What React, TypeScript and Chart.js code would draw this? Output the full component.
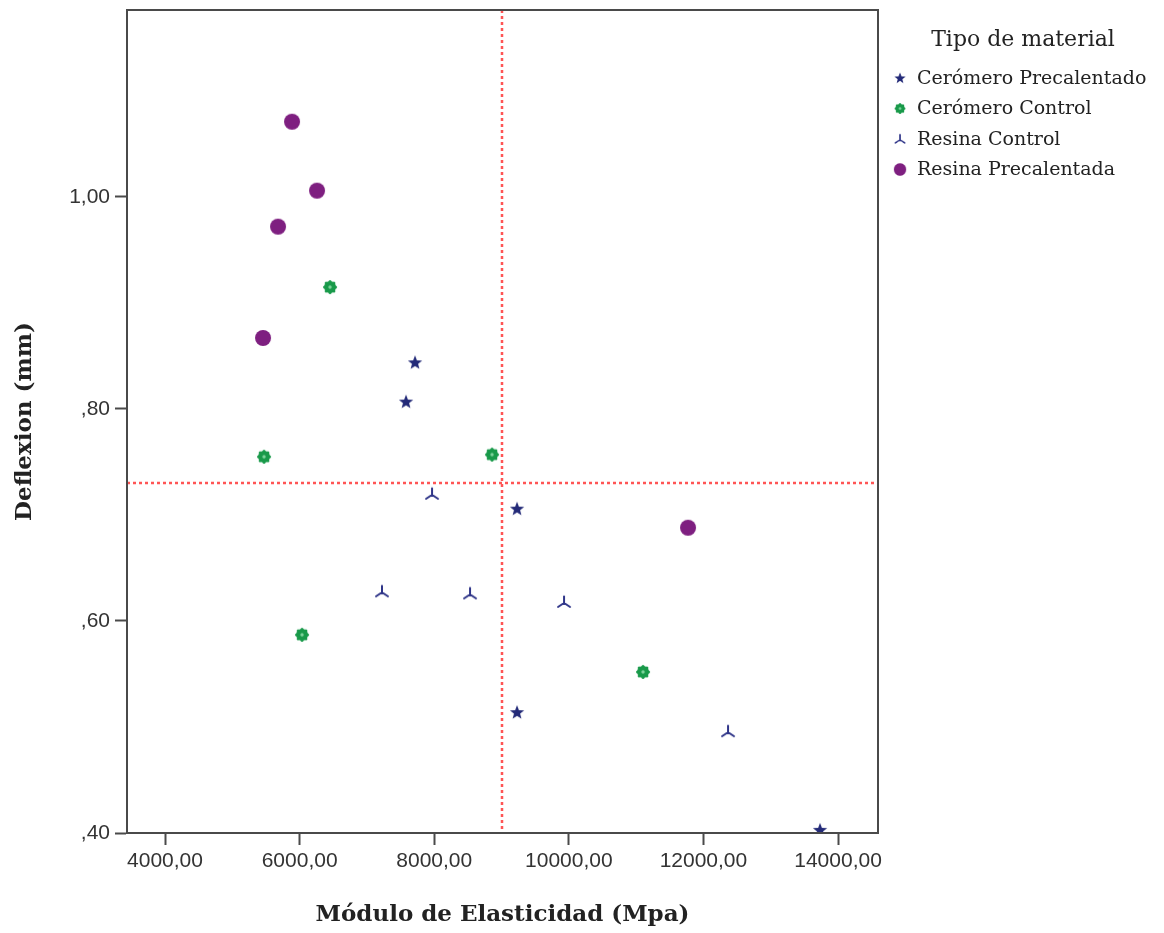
import React, { useEffect, useRef } from "react";
import { Chart, registerables } from "chart.js";

Chart.register(...registerables);

const seriesNames = ["Cerómero Precalentado", "Cerómero Control", "Resina Control", "Resina Precalentada"];
const legendTitle = "Tipo de material";
const xTitle = "Módulo de Elasticidad (Mpa)";
const yTitle = "Deflexion (mm)";

const cpX = [7715, 7581, 9230, 9230, 13733];
const cpY = [0.844, 0.807, 0.706, 0.514, 0.403];
const ccX = [6452, 5471, 8859, 6036, 11103];
const ccY = [0.915, 0.755, 0.757, 0.587, 0.552];
const rcX = [7967, 7224, 8532, 9929, 12366];
const rcY = [0.72, 0.628, 0.626, 0.618, 0.496];
const rpX = [5887, 6259, 5679, 5456, 11771];
const rpY = [1.071, 1.006, 0.972, 0.867, 0.688];

const xTicks = [4000, 6000, 8000, 10000, 12000, 14000];
const yTicks = [0.4, 0.6, 0.8, 1.0];
const refX = 9000;
const refY = 0.73;

const FONT = "'DejaVu Serif', 'Liberation Serif', serif";
const TICKFONT = "'Liberation Sans', Arial, sans-serif";

function makeCanvas(size: number, draw: (ctx: CanvasRenderingContext2D, c: number) => void) {
  const cv = document.createElement("canvas");
  cv.width = size;
  cv.height = size;
  const ctx = cv.getContext("2d")!;
  draw(ctx, size / 2);
  return cv;
}

function starIcon() {
  return makeCanvas(18, (ctx, c) => {
    ctx.fillStyle = "#232a78";
    ctx.beginPath();
    for (let i = 0; i < 10; i++) {
      const r = i % 2 === 0 ? 7.5 : 3.2;
      const a = -Math.PI / 2 + (i * Math.PI) / 5;
      const px = c + r * Math.cos(a);
      const py = c + 0.5 + r * Math.sin(a);
      if (i === 0) ctx.moveTo(px, py);
      else ctx.lineTo(px, py);
    }
    ctx.closePath();
    ctx.fill();
  });
}

function gearIcon() {
  return makeCanvas(18, (ctx, c) => {
    ctx.fillStyle = "#199a4a";
    ctx.beginPath();
    ctx.arc(c, c, 6, 0, Math.PI * 2);
    ctx.fill();
    for (let i = 0; i < 8; i++) {
      const a = (i * Math.PI) / 4;
      ctx.beginPath();
      ctx.arc(c + 5.5 * Math.cos(a), c + 5.5 * Math.sin(a), 1.5, 0, Math.PI * 2);
      ctx.fill();
    }
    ctx.fillStyle = "#7fd49c";
    ctx.beginPath();
    ctx.arc(c, c, 1.7, 0, Math.PI * 2);
    ctx.fill();
  });
}

function triIcon() {
  return makeCanvas(18, (ctx, c) => {
    ctx.strokeStyle = "#2e3488";
    ctx.lineWidth = 2;
    ctx.lineCap = "round";
    const cy = c + 1;
    ctx.beginPath();
    ctx.moveTo(c, cy);
    ctx.lineTo(c, cy - 6.5);
    ctx.moveTo(c, cy);
    ctx.lineTo(c - 6, cy + 4);
    ctx.moveTo(c, cy);
    ctx.lineTo(c + 6, cy + 4);
    ctx.stroke();
  });
}

function circleIcon() {
  return makeCanvas(18, (ctx, c) => {
    ctx.fillStyle = "#7e1f80";
    ctx.beginPath();
    ctx.arc(c, c, 8, 0, Math.PI * 2);
    ctx.fill();
  });
}

const toPts = (xs: number[], ys: number[]) => xs.map((x, i) => ({ x, y: ys[i] }));

const framePlugin = {
  id: "frameAndRefs",
  beforeDatasetsDraw(chart: any) {
    const { ctx, chartArea: a, scales } = chart;
    ctx.save();
    ctx.strokeStyle = "#ff5555";
    ctx.lineWidth = 2.5;
    ctx.setLineDash([3, 3]);
    const px = Math.round(scales.x.getPixelForValue(refX));
    const py = Math.round(scales.y.getPixelForValue(refY));
    ctx.beginPath();
    ctx.moveTo(px, a.top);
    ctx.lineTo(px, a.bottom);
    ctx.moveTo(a.left, py);
    ctx.lineTo(a.right, py);
    ctx.stroke();
    ctx.restore();
  },
  afterDraw(chart: any) {
    const { ctx, chartArea: a } = chart;
    ctx.save();
    ctx.strokeStyle = "#4a4a4a";
    ctx.lineWidth = 2;
    ctx.strokeRect(a.left, a.top, a.right - a.left, a.bottom - a.top);
    // legend
    ctx.fillStyle = "#222";
    ctx.font = `22px ${FONT}`;
    ctx.textAlign = "center";
    ctx.textBaseline = "middle";
    ctx.fillText(legendTitle, 1023, 40);
    ctx.font = `19px ${FONT}`;
    ctx.textAlign = "left";
    chart.data.datasets.forEach((ds: any, i: number) => {
      const y = 78 + i * 30.5;
      const img = ds.pointStyle as HTMLCanvasElement;
      ctx.drawImage(img, 900 - 7, y - 7, 14, 14);
      ctx.fillStyle = "#222";
      ctx.fillText(ds.label, 917, y + 1);
    });
    ctx.restore();
  },
};

export default function App() {
  const ref = useRef<HTMLCanvasElement>(null);
  useEffect(() => {
    const icons = [starIcon(), gearIcon(), triIcon(), circleIcon()];
    const data = [toPts(cpX, cpY), toPts(ccX, ccY), toPts(rcX, rcY), toPts(rpX, rpY)];
    const chart = new Chart(ref.current!, {
      type: "scatter",
      data: {
        datasets: seriesNames.map((name, i) => ({
          label: name,
          data: data[i],
          pointStyle: icons[i] as any,
          pointRadius: 9,
          pointHoverRadius: 9,
        })),
      },
      options: {
        animation: false,
        responsive: false,
        layout: { padding: { top: 10, right: 286, left: 0, bottom: 0 } },
        plugins: { legend: { display: false }, tooltip: { enabled: false } },
        scales: {
          x: {
            type: "linear",
            min: 3435,
            max: 14594,
            afterBuildTicks: (s: any) => {
              s.ticks = xTicks.map((v) => ({ value: v }));
            },
            afterFit: (s: any) => {
              s.height = 100;
              s.paddingLeft = 0;
              s.paddingRight = 0;
            },
            grid: { drawOnChartArea: false, drawTicks: true, tickLength: 12, tickWidth: 2, tickColor: "#4a4a4a" },
            border: { display: true, color: "#4a4a4a", width: 2 },
            ticks: {
              color: "#333",
              font: { family: TICKFONT, size: 21 },
              padding: 4,
              maxRotation: 0,
              callback: (v: any) => Number(v).toFixed(2).replace(".", ","),
            },
            title: {
              display: true,
              text: xTitle,
              color: "#222",
              font: { family: FONT, size: 23, weight: "bold" },
              padding: { top: 0, bottom: 4 },
            },
          },
          y: {
            type: "linear",
            min: 0.4,
            max: 1.1764,
            afterBuildTicks: (s: any) => {
              s.ticks = yTicks.map((v) => ({ value: v }));
            },
            afterFit: (s: any) => {
              s.width = 127;
              s.paddingTop = 0;
              s.paddingBottom = 0;
            },
            grid: { drawOnChartArea: false, drawTicks: true, tickLength: 12, tickWidth: 2, tickColor: "#4a4a4a" },
            border: { display: true, color: "#4a4a4a", width: 2 },
            ticks: {
              color: "#333",
              font: { family: TICKFONT, size: 21 },
              padding: 5,
              callback: (v: any) => {
                const s = Number(v).toFixed(2).replace(".", ",");
                return s.startsWith("0") ? s.slice(1) : s;
              },
            },
            title: {
              display: true,
              text: yTitle,
              color: "#222",
              font: { family: FONT, size: 23, weight: "bold" },
              padding: { top: 11, bottom: 0 },
            },
          },
        },
      },
      plugins: [framePlugin],
    });
    return () => chart.destroy();
  }, []);
  return (
    <div style={{ position: "absolute", left: 0, top: 0, width: 1164, height: 933, background: "#fff" }}>
      <canvas ref={ref} width={1164} height={933} style={{ width: 1164, height: 933 }} />
    </div>
  );
}
